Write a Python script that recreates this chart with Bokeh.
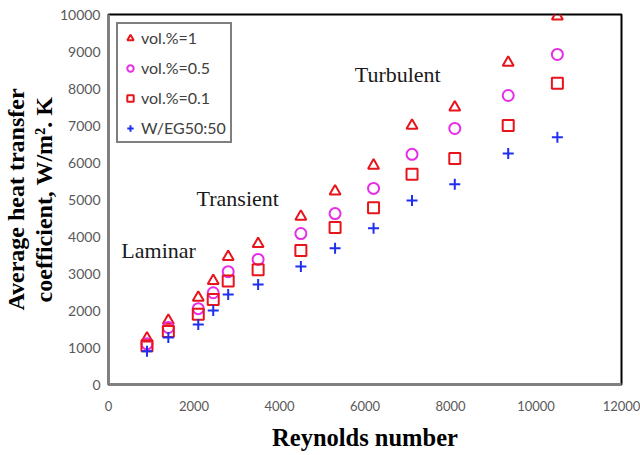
from bokeh.plotting import figure
from bokeh.models import Range1d, FixedTicker, Legend, LegendItem, Label, Title
from bokeh.embed import file_html
from bokeh.resources import INLINE

# Reynolds numbers and average heat transfer coefficients (W/m^2.K)
reynolds = [900, 1400, 2100, 2450, 2800, 3500, 4500, 5300, 6200, 7100, 8100, 9350, 10500]
h_vol_1 = [1250, 1730, 2350, 2800, 3450, 3800, 4540, 5220, 5920, 7000, 7490, 8700, 9950]
h_vol_05 = [1100, 1540, 2050, 2480, 3050, 3380, 4080, 4620, 5300, 6220, 6920, 7810, 8920]
h_vol_01 = [1050, 1430, 1900, 2300, 2800, 3100, 3620, 4240, 4780, 5680, 6110, 7000, 8140]
h_base = [900, 1270, 1620, 2000, 2430, 2700, 3190, 3680, 4220, 4970, 5410, 6240, 6680]

series_labels = ["vol.%=1", "vol.%=0.5", "vol.%=0.1", "W/EG50:50"]

x_ticks = list(range(0, 12001, 2000))
y_ticks = list(range(0, 10001, 1000))

# Flow regime annotations: (text, x, y)
regime_text = ["Laminar", "Transient", "Turbulent"]
regime_x = [300, 2060, 5760]
regime_y = [3620, 5030, 8380]

# Two-line y-axis title (outer line first)
y_title_lines = ["Average heat transfer", "coefficient, W/m\u00b2. K"]

p = figure(width=640, height=455, output_backend="svg", toolbar_location=None,
           x_range=Range1d(0, 12000), y_range=Range1d(0, 10000),
           frame_width=513, frame_height=370)
p.min_border_left = 108
p.min_border_right = 19
p.min_border_top = 14
p.min_border_bottom = 71
p.background_fill_color = "white"
p.border_fill_color = "white"
p.outline_line_color = "black"
p.outline_line_width = 2
p.xgrid.visible = False
p.ygrid.visible = False

for ax in (p.xaxis[0], p.yaxis[0]):
    ax.axis_line_color = "#808080"
    ax.axis_line_width = 3
    ax.major_tick_line_color = None
    ax.minor_tick_line_color = None
    ax.major_tick_out = 0
    ax.major_tick_in = 0
    ax.minor_tick_out = 0
    ax.minor_tick_in = 0
    ax.major_label_text_font = "Lato"
    ax.major_label_text_color = "#595959"
    ax.axis_label_text_font = "Liberation Serif"
    ax.axis_label_text_font_style = "bold"
    ax.axis_label_text_color = "black"

p.xaxis.major_label_text_font_size = "13px"
p.yaxis.major_label_text_font_size = "14px"
p.xaxis.ticker = FixedTicker(ticks=x_ticks)
p.yaxis.ticker = FixedTicker(ticks=y_ticks)
p.xaxis.major_label_standoff = 16
p.yaxis.major_label_standoff = 8
p.xaxis.axis_label = "Reynolds number"
p.xaxis.axis_label_text_font_size = "24.5px"
p.xaxis.axis_label_standoff = 10

# inner line is added first so it sits next to the tick labels
for line in reversed(y_title_lines):
    p.add_layout(Title(text=line, align="center", standoff=0, offset=0,
                       text_font="Liberation Serif", text_font_style="bold",
                       text_font_size="24px", text_color="black"), "left")

r1 = p.scatter(reynolds, h_vol_1, marker="triangle", size=11, fill_color=None,
               line_color="#e8141c", line_width=2)
r2 = p.scatter(reynolds, h_vol_05, marker="circle", size=11, fill_color=None,
               line_color="#e62ee6", line_width=2)
r3 = p.scatter(reynolds, h_vol_01, marker="square", size=11, fill_color=None,
               line_color="#e8141c", line_width=2)
r4 = p.scatter(reynolds, h_base, marker="cross", size=11,
               line_color="#1f2ff0", line_width=2)

legend = Legend(items=[LegendItem(label=lbl, renderers=[r])
                       for lbl, r in zip(series_labels, [r1, r2, r3, r4])],
                location="top_left")
legend.border_line_color = "black"
legend.border_line_width = 2
legend.label_text_font = "Lato"
legend.label_text_font_size = "16px"
legend.label_text_color = "#404040"
legend.glyph_width = 16
legend.glyph_height = 16
legend.label_height = 16
legend.spacing = 11
legend.padding = 4
legend.margin = 8
legend.label_standoff = 3
p.add_layout(legend)

for t, xv, yv in zip(regime_text, regime_x, regime_y):
    p.add_layout(Label(x=xv, y=yv, text=t, text_font="Liberation Serif",
                       text_font_size="22px", text_color="#1a1a1a",
                       text_baseline="middle", text_align="left"))

open("out.html", "w").write(file_html(p, INLINE))
